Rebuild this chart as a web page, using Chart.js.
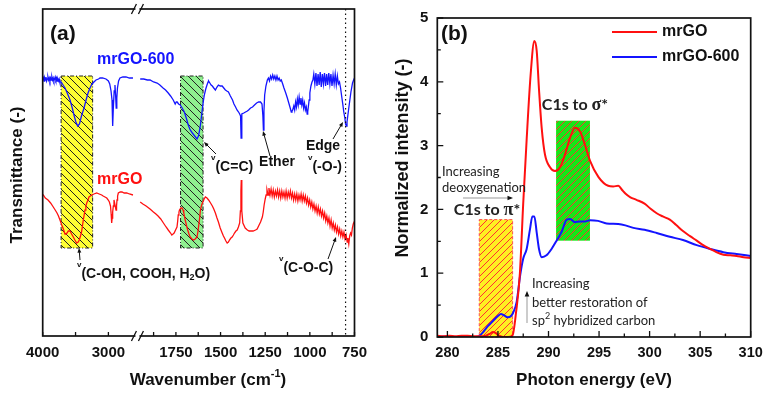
<!DOCTYPE html>
<html lang="en">
<head>
<meta charset="UTF-8">
<title>FTIR and NEXAFS of mrGO</title>
<script src="https://cdn.jsdelivr.net/npm/chart.js"></script>
<style>
  body { margin: 0; background: #fff; }
  #wrap { position: relative; width: 770px; height: 394px; }
  canvas { position: absolute; top: 0; }
  #chartA { left: 0; }
  #chartB { left: 385px; }
</style>
</head>
<body>
<div id="wrap">
  <canvas id="chartA" width="385" height="394"></canvas>
  <canvas id="chartB" width="385" height="394"></canvas>
</div>
<script>
// ---------- panel (a): FTIR, [wavenumber, transmittance (a.u.)] ----------
const ftir600Left = [[4000,256],[3990,258],[3980,255],[3970,258],[3960,256],[3950,259],[3940,255],[3930,257],[3920,259],[3910,256],[3900,258],[3890,255],[3880,258],[3870,256],[3860,259],[3850,256],[3840,258],[3830,255],[3820,257],[3810,259],[3800,256],[3790,258],[3780,255],[3770,257],[3760,255],[3750,257],[3740,254],[3720,254],[3690,251],[3660,248],[3620,242],[3584,236],[3550,228],[3524,221],[3495,214],[3467,210],[3440,212],[3410,220],[3371,228],[3340,236],[3310,243],[3280,248],[3250,252],[3220,254],[3189,256],[3150,257],[3128,258],[3090,258],[3037,257],[3000,255],[2980,252],[2960,245],[2945,236],[2935,210],[2925,228],[2912,245],[2900,251],[2890,240],[2881,228],[2872,238],[2862,248],[2845,255],[2824,258],[2780,259],[2732,259],[2680,258],[2626,258]];
const ftir600Right = [[1950,257],[1930,257],[1910,256],[1895,256],[1875,254],[1855,253],[1840,251],[1822,248],[1808,246],[1793,243],[1780,240],[1765,236],[1754,232],[1748,234],[1743,234],[1735,232],[1726,231],[1715,228],[1703,224],[1692,218],[1681,211],[1670,206],[1658,203],[1645,200],[1632,197],[1624,200],[1619,204],[1612,212],[1604,224],[1597,234],[1591,241],[1583,247],[1576,251],[1570,254],[1567,255],[1560,253],[1553,251],[1546,250],[1538,248],[1529,246],[1520,249],[1512,251],[1502,250],[1491,250],[1482,248],[1473,246],[1465,245],[1456,244],[1445,240],[1433,236],[1425,232],[1416,229],[1408,226],[1399,224],[1393,222],[1388,220],[1385,198],[1381,222],[1370,223],[1360,224],[1350,225],[1343,226],[1332,228],[1321,229],[1310,231],[1298,233],[1287,234],[1276,234],[1268,232],[1263,220],[1260,206],[1257,225],[1253,241],[1246,250],[1238,256],[1232,258],[1226,255],[1220,260],[1214,257],[1208,261],[1202,257],[1196,260],[1190,256],[1184,260],[1178,256],[1172,258],[1166,255],[1160,256],[1152,252],[1145,248],[1135,243],[1126,238],[1118,233],[1110,228],[1104,224],[1100,225],[1096,226],[1090,230],[1085,226],[1080,234],[1075,229],[1070,237],[1065,231],[1060,239],[1055,232],[1050,238],[1045,231],[1040,236],[1035,228],[1030,233],[1025,226],[1020,229],[1015,222],[1012,224],[1008,230],[1004,236],[1000,243],[994,250],[988,254],[983,256],[978,262],[972,252],[966,263],[960,250],[954,262],[948,251],[942,264],[936,249],[930,262],[924,252],[918,263],[912,250],[906,262],[900,251],[894,263],[888,252],[882,262],[876,250],[870,261],[864,252],[858,262],[852,251],[846,260],[840,252],[834,254],[828,248],[822,240],[815,231],[810,224],[804,218],[800,212],[796,210],[792,214],[787,221],[782,228],[776,236],[770,244],[765,249],[761,253],[755,256],[750,258]];
const ftirGOLeft = [[4000,141],[3991,141],[3960,138],[3919,136],[3880,133],[3839,129],[3810,126],[3782,123],[3760,120],[3737,116],[3710,111],[3691,108],[3661,102],[3645,102],[3630,103],[3610,105],[3584,105],[3560,102],[3534,99],[3510,96],[3483,93],[3460,94],[3443,96],[3425,100],[3409,104],[3395,110],[3382,116],[3369,121],[3356,126],[3343,130],[3330,133],[3310,136],[3295,139],[3254,141],[3220,142],[3178,143],[3140,142],[3102,141],[3080,140],[3052,139],[3025,138],[3002,136],[2985,134],[2968,130],[2958,122],[2950,113],[2943,118],[2935,124],[2925,130],[2915,136],[2900,131],[2884,126],[2876,130],[2869,136],[2860,140],[2849,143],[2820,144],[2793,144],[2760,143],[2721,143],[2680,142],[2626,141]];
const ftirGORight = [[1950,134],[1935,132],[1917,130],[1895,127],[1876,124],[1862,122],[1850,120],[1835,117],[1820,113],[1805,109],[1793,106],[1780,103],[1773,101],[1766,102],[1760,103],[1752,106],[1744,109],[1740,115],[1737,121],[1733,124],[1730,126],[1722,128],[1716,128],[1710,126],[1706,123],[1698,116],[1690,110],[1684,106],[1677,102],[1670,99],[1660,97],[1651,96],[1642,97],[1632,99],[1627,104],[1622,111],[1617,118],[1613,126],[1606,131],[1599,134],[1592,137],[1585,139],[1576,138],[1567,136],[1556,133],[1546,130],[1538,127],[1529,123],[1520,118],[1512,114],[1502,108],[1491,103],[1484,100],[1478,98],[1470,95],[1463,93],[1456,94],[1450,96],[1442,98],[1435,99],[1428,101],[1422,103],[1414,105],[1407,106],[1400,109],[1393,113],[1389,125],[1386,145],[1384,156],[1382,140],[1380,125],[1375,113],[1362,108],[1350,106],[1340,105],[1332,105],[1318,105],[1304,106],[1295,107],[1287,110],[1276,114],[1266,119],[1261,124],[1256,131],[1250,137],[1245,141],[1240,146],[1234,141],[1229,148],[1223,141],[1217,147],[1211,140],[1205,146],[1199,139],[1193,145],[1187,140],[1181,146],[1175,139],[1169,145],[1163,138],[1157,145],[1151,139],[1145,144],[1139,138],[1133,145],[1127,138],[1121,144],[1115,139],[1109,145],[1103,138],[1097,143],[1091,136],[1085,142],[1079,136],[1073,142],[1067,135],[1061,141],[1055,136],[1049,142],[1043,135],[1037,141],[1031,135],[1025,140],[1019,133],[1013,138],[1007,131],[1001,136],[995,129],[989,134],[983,127],[977,132],[971,125],[965,130],[959,123],[953,129],[947,122],[941,127],[935,120],[929,125],[923,118],[917,123],[911,115],[905,120],[899,113],[893,118],[887,110],[881,116],[875,108],[869,113],[863,106],[857,111],[851,104],[845,109],[839,102],[833,107],[827,100],[821,105],[815,99],[809,104],[803,97],[797,101],[791,94],[787,98],[782,92],[777,100],[772,103],[767,101],[762,108],[757,112],[752,114],[748,117]];
const wnTicks = [4000, 3500, 3000, 1875, 1750, 1625, 1500, 1375, 1250, 1125, 1000, 875, 750];
const wnLabels = [4000, 3000, 1750, 1500, 1250, 1000, 750];
const wnLeftPart = [4000, 2600];
const wnRightPart = [1950, 750];
const ohBand = [3720, 3240, 88, 260];
const ccBand = [1724, 1598, 88, 260];
const edgeLine = 800;

// ---------- panel (b): NEXAFS, [photon energy, normalized intensity] ----------
const xasGO = [[279,0.02],[279.6,0.01],[280.2,0.02],[280.8,0.01],[281.4,0.02],[282,0.02],[282.6,0.01],[283.2,0.01],[283.8,0.02],[284.2,0.05],[284.5,0.08],[284.8,0.06],[285.1,0.02],[285.5,0],[286,0],[286.45,0.03],[286.8,0.4],[287.17,1.0],[287.5,2.1],[287.84,3.1],[288.24,4.13],[288.6,4.64],[288.83,4.49],[289.06,3.88],[289.33,3.27],[289.65,2.86],[290.15,2.66],[290.64,2.6],[291.14,2.66],[291.63,2.86],[292.13,3.12],[292.62,3.28],[293.12,3.22],[293.61,3.01],[294.11,2.76],[294.93,2.51],[295.9,2.37],[296.4,2.36],[296.9,2.37],[297.3,2.3],[297.6,2.25],[298.1,2.19],[298.7,2.15],[299.5,2.09],[300.1,2.01],[300.7,1.94],[301.3,1.89],[302,1.84],[302.6,1.76],[303.3,1.66],[304,1.58],[304.66,1.51],[305.3,1.44],[306,1.38],[306.6,1.33],[307.3,1.29],[308,1.28],[308.6,1.27],[309.3,1.25],[310,1.24]];
const xas600 = [[279,0],[280,0.01],[281,0],[282,0.01],[282.8,0],[283.1,0.01],[283.6,0.09],[284,0.17],[284.5,0.25],[285,0.33],[285.3,0.36],[285.6,0.34],[285.95,0.31],[286.3,0.33],[286.5,0.38],[286.85,0.55],[287.2,0.97],[287.5,1.23],[287.84,1.38],[288.17,1.69],[288.4,1.89],[288.6,1.89],[288.83,1.64],[289.06,1.38],[289.33,1.25],[289.8,1.28],[290.3,1.38],[290.8,1.51],[291.3,1.65],[291.8,1.84],[292.13,1.85],[292.6,1.8],[293.1,1.81],[293.6,1.81],[294.1,1.83],[294.9,1.82],[295.75,1.78],[296.9,1.77],[297.6,1.75],[298.4,1.71],[299.5,1.68],[300.7,1.63],[302,1.57],[303.3,1.52],[304.66,1.44],[306,1.38],[307.3,1.33],[308.6,1.3],[310,1.27]];
const evTicks = [280, 282.5, 285, 287.5, 290, 292.5, 295, 297.5, 300, 302.5, 305, 307.5, 310];
const evLabels = [280, 285, 290, 295, 300, 305, 310];
const intTicks = [0, 0.5, 1, 1.5, 2, 2.5, 3, 3.5, 4, 4.5, 5];
const intLabels = [0, 1, 2, 3, 4, 5];
const piBand = [283.15, 286.45, 0, 1.84];
const sigmaBand = [290.75, 294.1, 1.51, 3.39];

const SANS = "'Liberation Sans', Arial, sans-serif";
const CAL = "Lato, 'Open Sans', sans-serif";
const RED = '#ff1010', BLUE = '#1414ff';

// x axis of (a) is broken between the two wavenumber ranges
class BrokenScale extends Chart.LinearScale {
  getPixelForValue(value) {
    if (value === null || value === undefined) return NaN;
    const leftShare = 0.295, rightStart = 0.3127;
    let d;
    if (value >= wnLeftPart[1]) {
      d = (wnLeftPart[0] - value) / (wnLeftPart[0] - wnLeftPart[1]) * leftShare;
    } else {
      d = rightStart + (wnRightPart[0] - value) / (wnRightPart[0] - wnRightPart[1]) * (1 - rightStart);
    }
    return this.getPixelForDecimal(d);
  }
}
BrokenScale.id = 'broken';
BrokenScale.defaults = Chart.LinearScale.defaults;
Chart.register(BrokenScale);

const pts = arr => arr.map(p => ({ x: p[0], y: p[1] }));

function hatch(ctx, bg, ink, back, size) {
  const c = document.createElement('canvas');
  c.width = c.height = size;
  const g = c.getContext('2d');
  g.fillStyle = bg;
  g.fillRect(0, 0, size, size);
  g.strokeStyle = ink;
  g.lineWidth = 1;
  g.beginPath();
  if (back) {
    g.moveTo(-1, -1); g.lineTo(size + 1, size + 1);
    g.moveTo(-1, size - 1); g.lineTo(1, size + 1);
    g.moveTo(size - 1, -1); g.lineTo(size + 1, 1);
  } else {
    g.moveTo(-1, size + 1); g.lineTo(size + 1, -1);
    g.moveTo(-1, 1); g.lineTo(1, -1);
    g.moveTo(size - 1, size + 1); g.lineTo(size + 1, size - 1);
  }
  g.stroke();
  return ctx.createPattern(c, 'repeat');
}

// text made of runs, for super/subscripts
function rich(ctx, parts, x, y, align, color) {
  let w = 0;
  parts.forEach(p => { ctx.font = p.f; p.w = ctx.measureText(p.t).width; w += p.w; });
  let cx = align === 'center' ? x - w / 2 : x;
  ctx.textAlign = 'left';
  ctx.textBaseline = 'middle';
  ctx.fillStyle = color || '#111';
  parts.forEach(p => { ctx.font = p.f; ctx.fillText(p.t, cx, y + (p.dy || 0)); cx += p.w; });
}

function arrow(ctx, x1, y1, x2, y2, lineColor, headColor, head) {
  const ang = Math.atan2(y2 - y1, x2 - x1);
  ctx.strokeStyle = lineColor;
  ctx.lineWidth = 1;
  ctx.beginPath();
  ctx.moveTo(x1, y1);
  ctx.lineTo(x2 - Math.cos(ang) * head * 0.8, y2 - Math.sin(ang) * head * 0.8);
  ctx.stroke();
  ctx.fillStyle = headColor;
  ctx.beginPath();
  ctx.moveTo(x2, y2);
  ctx.lineTo(x2 - head * Math.cos(ang - 0.4), y2 - head * Math.sin(ang - 0.4));
  ctx.lineTo(x2 - head * Math.cos(ang + 0.4), y2 - head * Math.sin(ang + 0.4));
  ctx.closePath();
  ctx.fill();
}

function box(chart, b, fill, edge, dash) {
  const { ctx, scales: { x, y } } = chart;
  const x1 = x.getPixelForValue(b[0]), x2 = x.getPixelForValue(b[1]);
  const y1 = y.getPixelForValue(b[3]), y2 = y.getPixelForValue(b[2]);
  ctx.fillStyle = fill;
  ctx.fillRect(Math.min(x1, x2), y1, Math.abs(x2 - x1), y2 - y1);
  if (edge) {
    ctx.strokeStyle = edge;
    ctx.lineWidth = 1;
    ctx.setLineDash(dash);
    ctx.strokeRect(Math.min(x1, x2), y1, Math.abs(x2 - x1), y2 - y1);
    ctx.setLineDash([]);
  }
}

// inward tick marks and the frame
const frameTicks = {
  id: 'frameTicks',
  afterDatasetsDraw(chart, args, o) {
    const { ctx, chartArea: a, scales: { x, y } } = chart;
    ctx.save();
    ctx.strokeStyle = '#111';
    ctx.lineWidth = 1.3;
    ctx.beginPath();
    o.xTicks.forEach(v => {
      const p = x.getPixelForValue(v);
      const L = o.xMajor.includes(v) ? o.long : o.short;
      ctx.moveTo(p, a.bottom); ctx.lineTo(p, a.bottom - L);
    });
    (o.yTicks || []).forEach(v => {
      const p = y.getPixelForValue(v);
      const L = o.yMajor.includes(v) ? o.long : o.short;
      ctx.moveTo(a.left, p); ctx.lineTo(a.left + L, p);
    });
    ctx.stroke();
    ctx.lineWidth = 1.7;
    ctx.strokeRect(a.left, a.top, a.width, a.height);
    ctx.restore();
  }
};

const notesA = {
  id: 'notesA',
  beforeDatasetsDraw(chart) {
    const ctx = chart.ctx;
    ctx.save();
    box(chart, ohBand, hatch(ctx, '#ffff33', '#222', true, 8), '#222', [4, 2, 1, 2]);
    box(chart, ccBand, hatch(ctx, '#8ff08f', '#222', true, 8), '#222', [4, 2, 1, 2]);
    ctx.restore();
  },
  afterDraw(chart) {
    const { ctx, chartArea: a, scales: { x } } = chart;
    ctx.save();
    // dotted marker line
    const xd = x.getPixelForValue(edgeLine);
    ctx.strokeStyle = '#111';
    ctx.lineWidth = 1.2;
    ctx.setLineDash([1.5, 3]);
    ctx.beginPath(); ctx.moveTo(xd, a.top); ctx.lineTo(xd, a.bottom); ctx.stroke();
    ctx.setLineDash([]);
    // axis break
    const xb = (x.getPixelForValue(wnLeftPart[1]) + x.getPixelForValue(wnRightPart[0])) / 2;
    [a.top, a.bottom].forEach(yy => {
      ctx.fillStyle = '#fff';
      ctx.fillRect(xb - 2, yy - 2, 4, 4);
      ctx.strokeStyle = '#111';
      ctx.lineWidth = 1.3;
      ctx.beginPath();
      ctx.moveTo(xb - 6, yy + 5); ctx.lineTo(xb - 1, yy - 5);
      ctx.moveTo(xb + 1, yy + 5); ctx.lineTo(xb + 6, yy - 5);
      ctx.stroke();
    });
    const B14 = 'bold 14px ' + SANS, NU = 'bold 8px ' + SANS;
    rich(ctx, [{ t: '(a)', f: 'bold 21px ' + SANS }], 50, 34, 'left');
    rich(ctx, [{ t: 'mrGO-600', f: 'bold 16px ' + SANS }], 97, 60, 'left', BLUE);
    rich(ctx, [{ t: 'mrGO', f: 'bold 16px ' + SANS }], 97, 180, 'left', RED);
    rich(ctx, [{ t: 'v', f: NU, dy: -9 }, { t: '(C=C)', f: B14 }], 211, 167, 'left');
    rich(ctx, [{ t: 'Ether', f: B14 }], 277, 162, 'center');
    rich(ctx, [{ t: 'Edge', f: B14 }], 323, 146, 'center');
    rich(ctx, [{ t: 'v', f: NU, dy: -9 }, { t: '(-O-)', f: B14 }], 308, 167, 'left');
    rich(ctx, [{ t: 'v', f: NU, dy: -9 }, { t: '(C-OH, COOH, H', f: B14 }, { t: '2', f: 'bold 9px ' + SANS, dy: 4 }, { t: 'O)', f: B14 }], 77, 274, 'left');
    rich(ctx, [{ t: 'v', f: NU, dy: -9 }, { t: '(C-O-C)', f: B14 }], 279, 268, 'left');
    arrow(ctx, 216, 154, 204, 142, '#111', '#111', 5);
    arrow(ctx, 270, 156, 263, 131, '#111', '#111', 5);
    arrow(ctx, 333, 139, 343, 122, '#111', '#111', 5);
    arrow(ctx, 80, 260, 79, 248, '#111', '#111', 5);
    arrow(ctx, 328, 259, 336, 237, '#111', '#111', 5);
    // axis titles
    rich(ctx, [{ t: 'Wavenumber (cm', f: 'bold 17px ' + SANS }, { t: '-1', f: 'bold 11px ' + SANS, dy: -6 }, { t: ')', f: 'bold 17px ' + SANS }], 208, 380, 'center');
    ctx.translate(17, 175);
    ctx.rotate(-Math.PI / 2);
    rich(ctx, [{ t: 'Transmittance (-)', f: 'bold 17px ' + SANS }], 0, 0, 'center');
    ctx.restore();
  }
};

const notesB = {
  id: 'notesB',
  beforeDatasetsDraw(chart) {
    const ctx = chart.ctx;
    ctx.save();
    box(chart, piBand, hatch(ctx, '#ffee22', '#ff3030', false, 7), '#ff5050', [3, 2]);
    box(chart, sigmaBand, hatch(ctx, '#16e616', '#ff3030', false, 7), null);
    ctx.restore();
  },
  afterDraw(chart) {
    const ctx = chart.ctx;
    ctx.save();
    rich(ctx, [{ t: '(b)', f: 'bold 21px ' + SANS }], 56, 34, 'left');
    // legend
    chart.data.datasets.forEach((ds, i) => {
      const yy = 32 + i * 25;
      ctx.strokeStyle = ds.borderColor;
      ctx.lineWidth = 2;
      ctx.beginPath(); ctx.moveTo(227, yy); ctx.lineTo(272, yy); ctx.stroke();
      rich(ctx, [{ t: ds.label, f: 'bold 16px ' + SANS }], 277, yy, 'left');
    });
    const C = 'bold 16px ' + CAL, G = 'bold 18px "Liberation Serif", serif';
    rich(ctx, [{ t: 'C1s to ', f: C }, { t: 'σ', f: G }, { t: '*', f: C }], 190, 105, 'center', '#222');
    rich(ctx, [{ t: 'C1s to ', f: C }, { t: 'π', f: G }, { t: '*', f: C }], 102, 210, 'center', '#222');
    const S = '13px ' + CAL;
    rich(ctx, [{ t: 'Increasing', f: S }], 57, 172, 'left', '#222');
    rich(ctx, [{ t: 'deoxygenation', f: S }], 57, 188, 'left', '#222');
    arrow(ctx, 78, 198, 128, 198, '#999', '#111', 6);
    rich(ctx, [{ t: 'Increasing', f: S }], 147, 284, 'left', '#222');
    rich(ctx, [{ t: 'better restoration of', f: S }], 147, 302.5, 'left', '#222');
    rich(ctx, [{ t: 'sp', f: S }, { t: '2', f: '9px ' + CAL, dy: -5 }, { t: ' hybridized carbon', f: S }], 147, 321, 'left', '#222');
    arrow(ctx, 142, 323, 142, 291, '#999', '#111', 6);
    // axis titles
    rich(ctx, [{ t: 'Photon energy (eV)', f: 'bold 17px ' + SANS }], 209, 380, 'center');
    ctx.translate(18, 158);
    ctx.rotate(-Math.PI / 2);
    rich(ctx, [{ t: 'Normalized intensity (-)', f: 'bold 18px ' + SANS }], 0, 0, 'center');
    ctx.restore();
  }
};

// ---------- chart (a) ----------
new Chart(document.getElementById('chartA'), {
  type: 'line',
  data: {
    datasets: [
      { label: 'mrGO-600', data: pts(ftir600Left).concat([{ x: 2300, y: null }], pts(ftir600Right)),
        borderColor: BLUE, borderWidth: 1.3, pointRadius: 0, tension: 0, spanGaps: false },
      { label: 'mrGO', data: pts(ftirGOLeft).concat([{ x: 2300, y: null }], pts(ftirGORight)),
        borderColor: RED, borderWidth: 1.3, pointRadius: 0, tension: 0, spanGaps: false }
    ]
  },
  options: {
    responsive: false,
    animation: false,
    layout: { padding: { left: 42.7, top: 9, right: 30.5, bottom: 0 } },
    plugins: {
      legend: { display: false },
      tooltip: { enabled: false },
      frameTicks: { xTicks: wnTicks, xMajor: wnTicks, long: 4, short: 4 }
    },
    scales: {
      x: {
        type: 'broken', min: 750, max: 4000,
        afterBuildTicks: s => { s.ticks = wnTicks.map(v => ({ value: v })); },
        afterFit: s => { s.height = 58; },
        grid: { display: false, drawTicks: false },
        border: { display: false },
        ticks: {
          autoSkip: false, maxRotation: 0, padding: 8, color: '#111',
          font: { family: SANS, size: 15, weight: 'bold' },
          callback: v => wnLabels.includes(v) ? String(v) : ''
        }
      },
      y: { display: false, min: 0, max: 327 }
    }
  },
  plugins: [notesA, frameTicks]
});

// ---------- chart (b) ----------
new Chart(document.getElementById('chartB'), {
  type: 'line',
  data: {
    datasets: [
      { label: 'mrGO', data: pts(xasGO), borderColor: RED, borderWidth: 2, pointRadius: 0,
        cubicInterpolationMode: 'monotone' },
      { label: 'mrGO-600', data: pts(xas600), borderColor: BLUE, borderWidth: 2, pointRadius: 0,
        cubicInterpolationMode: 'monotone' }
    ]
  },
  options: {
    responsive: false,
    animation: false,
    layout: { padding: { left: 0, top: 10, right: 19.3, bottom: 0 } },
    plugins: {
      legend: { display: false },
      tooltip: { enabled: false },
      frameTicks: { xTicks: evTicks, xMajor: evLabels, yTicks: intTicks, yMajor: intLabels, long: 6, short: 3.5 }
    },
    scales: {
      x: {
        type: 'linear', min: 279, max: 310,
        afterBuildTicks: s => { s.ticks = evTicks.map(v => ({ value: v })); },
        afterFit: s => { s.height = 57; },
        grid: { display: false, drawTicks: false },
        border: { display: false },
        ticks: {
          autoSkip: false, maxRotation: 0, padding: 7, color: '#111',
          font: { family: SANS, size: 14.5, weight: 'bold' },
          callback: v => evLabels.includes(v) ? String(v) : ''
        }
      },
      y: {
        type: 'linear', min: 0, max: 5,
        afterBuildTicks: s => { s.ticks = intTicks.map(v => ({ value: v })); },
        afterFit: s => { s.width = 52.3; },
        grid: { display: false, drawTicks: false },
        border: { display: false },
        ticks: {
          autoSkip: false, padding: 9, color: '#111',
          font: { family: SANS, size: 15, weight: 'bold' },
          callback: v => intLabels.includes(v) ? String(v) : ''
        }
      }
    }
  },
  plugins: [notesB, frameTicks]
});
</script>
</body>
</html>
